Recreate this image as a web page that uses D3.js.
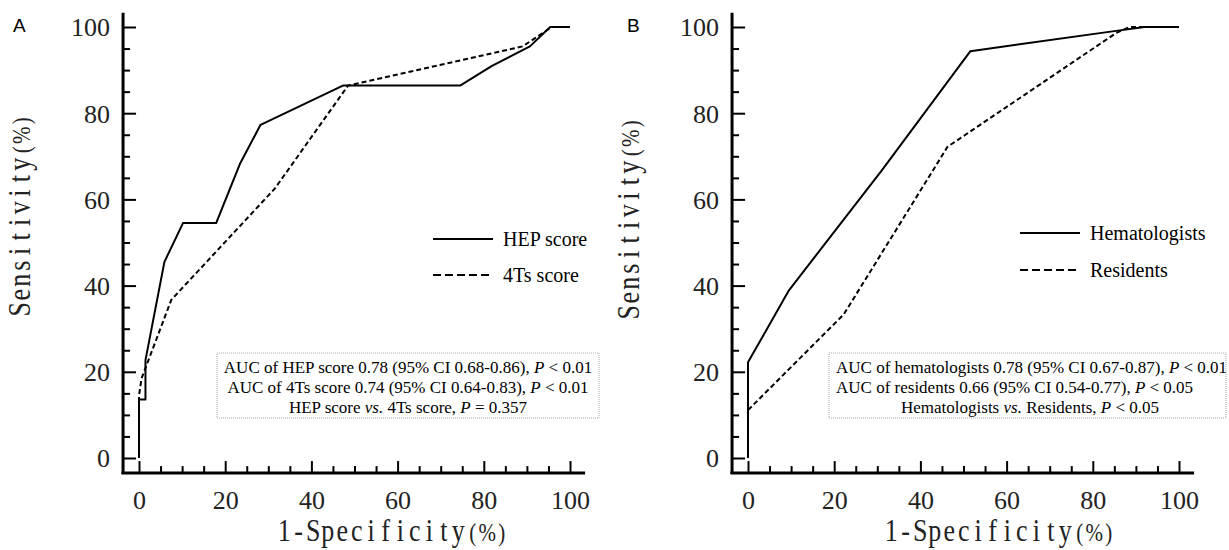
<!DOCTYPE html>
<html>
<head>
<meta charset="utf-8">
<script src="https://cdn.jsdelivr.net/npm/d3@7"></script>
<style>
  body { margin: 0; background: #fff; }
</style>
</head>
<body>
<div id="chart"></div>
<script>
// Tick values shared by both panels
const majorTicks = [0, 20, 40, 60, 80, 100];
const minorTicks = [5, 10, 15, 25, 30, 35, 45, 50, 55, 65, 70, 75, 85, 90, 95];

// Panel A: HEP score vs 4Ts score (1-specificity, sensitivity in %)
const hepFpr  = [0, 0, 1.5, 1.5, 5.9, 10.2, 17.9, 23.4, 28.2, 47.3, 74.5, 81.8, 90.7, 95.4, 100];
const hepSens = [0, 13.6, 13.6, 22.7, 45.5, 54.5, 54.5, 68.2, 77.3, 86.4, 86.4, 90.9, 95.5, 100, 100];
const fourTsFpr  = [0, 0, 0.6, 7.5, 31.5, 48.5, 89, 95.8, 100];
const fourTsSens = [0, 14.5, 18.5, 36.7, 62.5, 86.4, 95.5, 100, 100];

// Panel B: hematologists vs residents
const hemFpr  = [0, 0, 9.5, 31, 51.6, 85.4, 92, 100];
const hemSens = [0, 22.2, 38.9, 66.7, 94.4, 99.1, 100, 100];
const resFpr  = [0, 0, 22.2, 46.3, 85.4, 88.5, 100];
const resSens = [0, 11.1, 33.3, 72.2, 98.6, 100, 100];

const legendA = ["HEP score", "4Ts score"];
const legendB = ["Hematologists", "Residents"];

const width = 1229, height = 550;
const svg = d3.select("#chart").append("svg")
    .attr("width", width)
    .attr("height", height);

const serif = "'Liberation Serif', 'Times New Roman', serif";

function toPoints(xs, ys) {
    return xs.map((v, i) => ({ fpr: v, sens: ys[i] }));
}

// serif text laid out on a fixed-width grid (like the original's CJK font),
// with the "(%)" unit a bit smaller
function gridText(g, label, unit, transform) {
    const cell = 14.5;
    const chars = Array.from(label + unit);
    const start = -chars.length * cell / 2 + cell / 2;
    const xs = chars.map((c, i) => (start + i * cell).toFixed(1));
    const t = g.append("text")
        .attr("transform", transform)
        .attr("y", 0)
        .attr("text-anchor", "middle")
        .attr("font-family", serif)
        .attr("font-size", 26)
        .attr("fill", "#222");
    t.append("tspan")
        .attr("x", xs.slice(0, label.length).join(" "))
        .text(label);
    t.append("tspan")
        .attr("x", xs.slice(label.length).join(" "))
        .attr("font-size", 21)
        .text(unit);
}

function drawPanel(cfg) {
    const x = d3.scaleLinear().domain([0, 100]).range([cfg.left, cfg.left + 431]);
    const y = d3.scaleLinear().domain([0, 100]).range([458, 27]);
    const g = svg.append("g");

    // axis lines
    g.append("line")
        .attr("x1", x(-3.7)).attr("x2", x(-3.7))
        .attr("y1", y(103.3)).attr("y2", y(-3.5))
        .attr("stroke", "#000").attr("stroke-width", 3);
    g.append("line")
        .attr("x1", x(-4.1)).attr("x2", x(103.5))
        .attr("y1", y(-3.5)).attr("y2", y(-3.5))
        .attr("stroke", "#000").attr("stroke-width", 3);

    // y axis, ticks pointing inward
    const yMajor = g.append("g")
        .attr("transform", `translate(${x(-3.7)},0)`)
        .call(d3.axisLeft(y).tickValues(majorTicks).tickSize(-13).tickPadding(13));
    g.append("g")
        .attr("transform", `translate(${x(-3.7)},0)`)
        .call(d3.axisLeft(y).tickValues(minorTicks).tickSize(-7).tickFormat(""));

    // x axis, ticks pointing up
    const xMajor = g.append("g")
        .attr("transform", `translate(0,${y(-3.5)})`)
        .call(d3.axisBottom(x).tickValues(majorTicks).tickSize(-12).tickPadding(17));
    g.append("g")
        .attr("transform", `translate(0,${y(-3.5)})`)
        .call(d3.axisBottom(x).tickValues(minorTicks).tickSize(-7).tickFormat(""));

    g.selectAll(".domain").remove();
    g.selectAll(".tick line").attr("stroke-width", 2);
    g.selectAll(".tick text")
        .attr("font-family", serif)
        .attr("font-size", 26)
        .attr("fill", "#222");
    yMajor.selectAll(".tick text").attr("dy", "0.34em");
    xMajor.selectAll(".tick text").attr("dy", "0.71em");

    // curves
    const line = d3.line().x(d => x(d.fpr)).y(d => y(d.sens));
    g.append("path")
        .datum(toPoints(cfg.solidX, cfg.solidY))
        .attr("fill", "none").attr("stroke", "#000")
        .attr("stroke-width", 2).attr("stroke-linejoin", "round")
        .attr("d", line);
    g.append("path")
        .datum(toPoints(cfg.dashX, cfg.dashY))
        .attr("fill", "none").attr("stroke", "#000")
        .attr("stroke-width", 2).attr("stroke-dasharray", "5,3")
        .attr("d", line);

    // legend
    cfg.legend.forEach((name, i) => {
        const ly = cfg.legendY[i];
        g.append("line")
            .attr("x1", cfg.left + cfg.legendX).attr("x2", cfg.left + cfg.legendX + 60)
            .attr("y1", ly).attr("y2", ly)
            .attr("stroke", "#000").attr("stroke-width", 2)
            .attr("stroke-dasharray", i === 1 ? "8,4" : null);
        g.append("text")
            .attr("x", cfg.left + cfg.legendX + 70)
            .attr("y", ly + 7)
            .attr("font-family", serif)
            .attr("font-size", 20)
            .text(name);
    });

    // annotation box
    g.append("rect")
        .attr("x", cfg.left + cfg.box[0]).attr("y", 353)
        .attr("width", cfg.box[1]).attr("height", 65)
        .attr("fill", "none").attr("stroke", "#aaa")
        .attr("stroke-width", 1).attr("stroke-dasharray", "1,1");
    cfg.notes.forEach((parts, i) => {
        const t = g.append("text")
            .attr("x", cfg.left + cfg.noteX[i])
            .attr("y", 373 + i * 20)
            .attr("text-anchor", cfg.noteAnchor[i])
            .attr("font-family", serif)
            .attr("font-size", 17);
        parts.forEach(p => {
            t.append("tspan")
                .attr("font-style", p.it ? "italic" : null)
                .text(p.s);
        });
    });

    // axis titles
    gridText(g, "Sensitivity", "(%)",
        `translate(${cfg.left - 109},${cfg.yTitleY}) rotate(-90) scale(1,1.2)`);
    gridText(g, "1-Specificity", "(%)",
        `translate(${cfg.left + cfg.xTitleX},541) scale(1,1.2)`);

    // panel letter
    g.append("text")
        .attr("x", cfg.left - cfg.letterDx).attr("y", 32)
        .attr("font-family", "'Liberation Sans', Arial, sans-serif")
        .attr("font-size", 19)
        .text(cfg.letter);
}

drawPanel({
    left: 139, letter: "A", letterDx: 126,
    solidX: hepFpr, solidY: hepSens,
    dashX: fourTsFpr, dashY: fourTsSens,
    legend: legendA, legendX: 294, legendY: [239, 275],
    box: [78, 382],
    noteX: [269, 269, 269], noteAnchor: ["middle", "middle", "middle"],
    notes: [
        [{ s: "AUC of HEP score 0.78 (95% CI 0.68-0.86), " }, { s: "P", it: true }, { s: " < 0.01" }],
        [{ s: "AUC of 4Ts score 0.74 (95% CI 0.64-0.83), " }, { s: "P", it: true }, { s: " < 0.01" }],
        [{ s: "HEP score " }, { s: "vs.", it: true }, { s: " 4Ts score, " }, { s: "P", it: true }, { s: " = 0.357" }]
    ],
    xTitleX: 254, yTitleY: 215
});

drawPanel({
    left: 748, letter: "B", letterDx: 121,
    solidX: hemFpr, solidY: hemSens,
    dashX: resFpr, dashY: resSens,
    legend: legendB, legendX: 272, legendY: [233, 270],
    box: [81, 397],
    noteX: [88, 88, 282], noteAnchor: ["start", "start", "middle"],
    notes: [
        [{ s: "AUC of hematologists 0.78 (95% CI 0.67-0.87), " }, { s: "P", it: true }, { s: " < 0.01" }],
        [{ s: "AUC of residents 0.66 (95% CI 0.54-0.77), " }, { s: "P", it: true }, { s: " < 0.05" }],
        [{ s: "Hematologists " }, { s: "vs.", it: true }, { s: " Residents, " }, { s: "P", it: true }, { s: " < 0.05" }]
    ],
    xTitleX: 252, yTitleY: 218
});
</script>
</body>
</html>
